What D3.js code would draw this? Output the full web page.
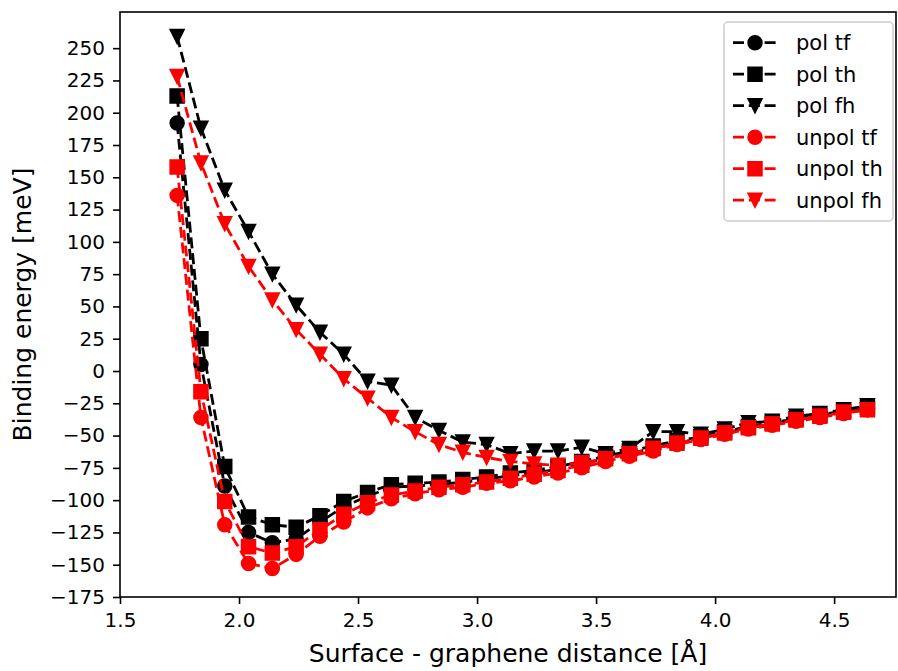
<!DOCTYPE html>
<html>
<head>
<meta charset="utf-8">
<script src="https://cdn.jsdelivr.net/npm/d3@7"></script>
<style>
  body { margin: 0; background: #fff; }
  svg text { font-family: "DejaVu Sans", sans-serif; fill: #000; }
</style>
</head>
<body>
<div id="graf"></div>
<script>
// I. Datos
distancia = [1.74, 1.84, 1.94, 2.04, 2.14, 2.24, 2.34, 2.44, 2.54, 2.64,
             2.74, 2.84, 2.94, 3.04, 3.14, 3.24, 3.34, 3.44, 3.54, 3.64,
             3.74, 3.84, 3.94, 4.04, 4.14, 4.24, 4.34, 4.44, 4.54, 4.64]

polTf   = [192, 5, -89, -125, -133, -130, -117, -105, -97, -90,
           -89, -88, -86, -84, -81, -79, -76, -72, -68, -64,
           -60, -56, -52, -48, -44, -41, -38, -35, -32, -29]
polTh   = [213, 25, -74, -113, -119, -121, -112, -101, -94, -88,
           -87, -86, -84, -82, -79, -77, -74, -70, -66, -62,
           -58, -54, -51, -47, -43, -40, -37, -34, -31, -28]
polFh   = [259, 188, 140, 108, 75, 51, 30, 13, -8, -11,
           -36, -46, -55, -57, -64, -62, -62, -59, -64, -60,
           -47, -47, -49, -45, -40, -39, -35, -33, -30, -27]
unpolTf = [136, -36, -119, -149, -153, -142, -128, -117, -106, -99,
           -95, -92, -90, -87, -85, -82, -79, -75, -70, -66,
           -62, -57, -53, -49, -45, -42, -39, -36, -33, -30]
unpolTh = [158, -16, -101, -136, -141, -136, -123, -111, -102, -96,
           -93, -90, -88, -86, -83, -80, -77, -73, -68, -64,
           -60, -56, -52, -48, -44, -41, -38, -35, -32, -30]
unpolFh = [228, 161, 114, 81, 55, 32, 13, -6, -21, -36,
           -47, -57, -63, -67, -70, -72, -73, -71, -68, -64,
           -60, -56, -52, -48, -44, -41, -38, -35, -32, -30]

xTicks = [1.5, 2.0, 2.5, 3.0, 3.5, 4.0, 4.5]
yTicks = [-175, -150, -125, -100, -75, -50, -25, 0, 25, 50, 75, 100,
          125, 150, 175, 200, 225, 250]

series = [
  { nombre: 'pol tf',   valores: polTf,   color: '#000000', marca: 'o' },
  { nombre: 'pol th',   valores: polTh,   color: '#000000', marca: 's' },
  { nombre: 'pol fh',   valores: polFh,   color: '#000000', marca: 'v' },
  { nombre: 'unpol tf', valores: unpolTf, color: '#ff0000', marca: 'o' },
  { nombre: 'unpol th', valores: unpolTh, color: '#ff0000', marca: 's' },
  { nombre: 'unpol fh', valores: unpolFh, color: '#ff0000', marca: 'v' }
]

// II. Configuración
ancho_total = 898
alto_total = 671
margins = { top: 12, left: 120, right: 2, bottom: 74 }
ancho = ancho_total - margins.left - margins.right
alto  = alto_total - margins.top - margins.bottom

svg = d3.select('#graf').append('svg')
        .attr('width', ancho_total)
        .attr('height', alto_total)

g = svg.append('g')
       .attr('transform', `translate(${ margins.left }, ${ margins.top })`)

x = d3.scaleLinear().domain([1.5, 4.76]).range([0, ancho])
y = d3.scaleLinear().domain([-175, 278]).range([alto, 0])

menos = s => s.replace('-', '\u2212')

// III. Ejes
xAxisCall = d3.axisBottom(x)
              .tickValues(xTicks)
              .tickFormat(d => d3.format('.1f')(d))
              .tickSizeInner(7).tickSizeOuter(0).tickPadding(9)
yAxisCall = d3.axisLeft(y)
              .tickValues(yTicks)
              .tickFormat(d => menos(d + ''))
              .tickSizeInner(7).tickSizeOuter(0).tickPadding(8)

xAxisGroup = g.append('g').attr('transform', `translate(0, ${ alto })`).call(xAxisCall)
yAxisGroup = g.append('g').call(yAxisCall)

;[xAxisGroup, yAxisGroup].forEach(ax => {
  ax.selectAll('text').style('font-size', '20px')
  ax.selectAll('line').attr('stroke', '#000').attr('stroke-width', 1.6)
  ax.select('.domain').remove()
})

// marco
g.append('rect')
 .attr('x', 0).attr('y', 0)
 .attr('width', ancho).attr('height', alto)
 .attr('fill', 'none').attr('stroke', '#000').attr('stroke-width', 1.6)

// IV. Series
function marcaPath(tipo, s) {
  h = s / 2
  if (tipo === 'o') return d3.symbol(d3.symbolCircle, Math.PI * h * h)()
  if (tipo === 's') return `M${-h},${-h}L${h},${-h}L${h},${h}L${-h},${h}Z`
  return `M${-h},${-h}L${h},${-h}L0,${h}Z`
}

linea = d3.line()
          .x(d => x(d[0]))
          .y(d => y(d[1]))

series.forEach(s => {
  puntos = distancia.map((d, i) => [d, s.valores[i]])
  sg = g.append('g')
  sg.append('path')
    .attr('d', linea(puntos))
    .attr('fill', 'none')
    .attr('stroke', s.color)
    .attr('stroke-width', 2.8)
    .attr('stroke-dasharray', '11,4.8')
  sg.selectAll('path.marca')
    .data(puntos)
    .enter()
    .append('path')
      .attr('class', 'marca')
      .attr('transform', d => `translate(${ x(d[0]) }, ${ y(d[1]) })`)
      .attr('d', marcaPath(s.marca, 14))
      .attr('fill', s.color)
      .attr('stroke', s.color)
      .attr('stroke-width', 1.5)
})

// V. Leyenda
leyenda = svg.append('g').attr('transform', 'translate(724, 22)')
leyenda.append('rect')
       .attr('width', 169).attr('height', 199)
       .attr('rx', 4)
       .attr('fill', '#fff').attr('fill-opacity', 0.8)
       .attr('stroke', '#cccccc').attr('stroke-width', 1.5)

series.forEach((s, i) => {
  yy = 20.7 + i * 31.5
  fila = leyenda.append('g')
  fila.append('line')
      .attr('x1', 9).attr('x2', 53)
      .attr('y1', yy).attr('y2', yy)
      .attr('stroke', s.color).attr('stroke-width', 2.8)
      .attr('stroke-dasharray', '11,4.8')
  fila.append('path')
      .attr('transform', `translate(31, ${ yy })`)
      .attr('d', marcaPath(s.marca, 14))
      .attr('fill', s.color)
      .attr('stroke', s.color)
      .attr('stroke-width', 1.5)
  fila.append('text')
      .attr('x', 72).attr('y', yy)
      .attr('dy', '0.35em')
      .style('font-size', '21px')
      .text(s.nombre)
})

// VI. Títulos de ejes
svg.append('text')
   .attr('x', margins.left + ancho / 2)
   .attr('y', 662)
   .attr('text-anchor', 'middle')
   .style('font-size', '25px')
   .text('Surface - graphene distance [Å]')

svg.append('text')
   .attr('transform', `translate(31, ${ margins.top + alto / 2 }) rotate(-90)`)
   .attr('text-anchor', 'middle')
   .style('font-size', '25px')
   .text('Binding energy [meV]')
</script>
</body>
</html>
